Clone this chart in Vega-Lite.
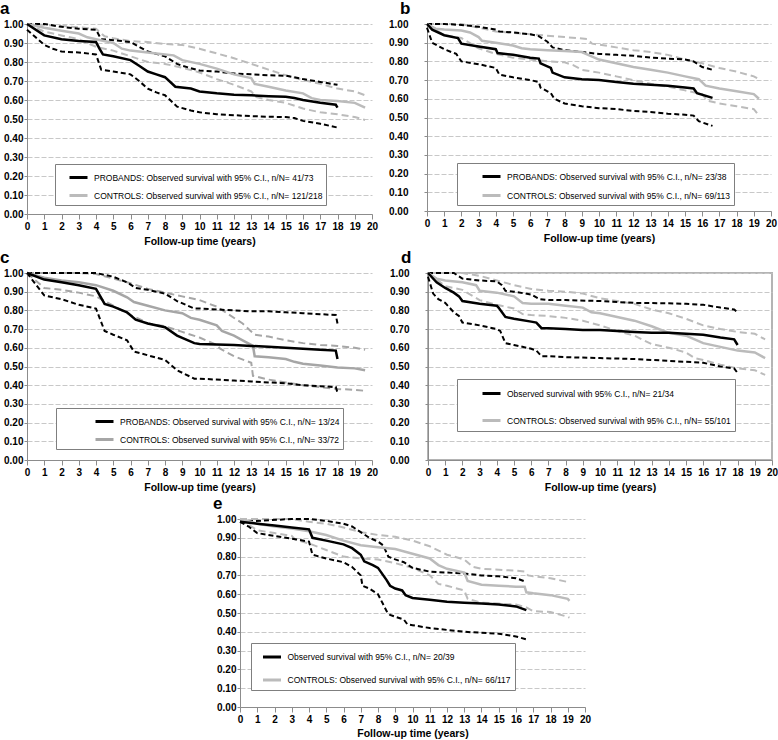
{
"$schema":"https://vega.github.io/schema/vega-lite/v6.json",
"padding":0,
"spacing":1,
"config":{
 "font":"Liberation Sans",
 "view":{"stroke":null},
 "axis":{"labelFont":"Liberation Sans","labelFontWeight":"bold","labelFontSize":10,"labelColor":"#000000","domainColor":"#8c8c8c","tickColor":"#8c8c8c","titleFont":"Liberation Sans","titleColor":"#000000"},
 "axisX":{"grid":false,"tickSize":5,"labelPadding":2,"titleFontSize":10.5,"titleFontWeight":"bold","titlePadding":5,"labelFlush":false,"labelOverlap":false},
 "axisY":{"grid":true,"gridColor":"#c8c8c8","gridDash":[5,2],"tickSize":3,"labelPadding":1,"labelOverlap":false},
 "title":{"anchor":"start","frame":"group","dx":-27,"fontSize":17,"fontWeight":"bold","offset":1,"font":"Liberation Sans","color":"#000000"},
 "legend":{"strokeColor":"#7f7f7f","fillColor":"#ffffff","symbolType":"stroke","symbolSize":324,"symbolStrokeWidth":3,"labelFontSize":8.5,"labelFont":"Liberation Sans","labelLimit":400,"labelColor":"#000000","labelOffset":5}
},
"datasets":{
"a":[
{"g":"C","k":"est","t":0,"s":1},{"g":"C","k":"est","t":1,"s":0.98},{"g":"C","k":"est","t":2,"s":0.965},{"g":"C","k":"est","t":3,"s":0.95},{"g":"C","k":"est","t":3.5,"s":0.93},{"g":"C","k":"est","t":4,"s":0.92},{"g":"C","k":"est","t":5,"s":0.9},{"g":"C","k":"est","t":5.5,"s":0.87},{"g":"C","k":"est","t":6,"s":0.86},{"g":"C","k":"est","t":7,"s":0.85},{"g":"C","k":"est","t":8,"s":0.84},{"g":"C","k":"est","t":8.5,"s":0.835},{"g":"C","k":"est","t":9,"s":0.81},{"g":"C","k":"est","t":10,"s":0.79},{"g":"C","k":"est","t":11,"s":0.765},{"g":"C","k":"est","t":12,"s":0.735},{"g":"C","k":"est","t":13,"s":0.715},{"g":"C","k":"est","t":13.2,"s":0.685},{"g":"C","k":"est","t":14,"s":0.67},{"g":"C","k":"est","t":15,"s":0.65},{"g":"C","k":"est","t":16,"s":0.635},{"g":"C","k":"est","t":16.5,"s":0.61},{"g":"C","k":"est","t":17,"s":0.6},{"g":"C","k":"est","t":18,"s":0.595},{"g":"C","k":"est","t":19,"s":0.585},{"g":"C","k":"est","t":19.6,"s":0.56},
{"g":"C","k":"hi","t":0,"s":1},{"g":"C","k":"hi","t":2,"s":0.99},{"g":"C","k":"hi","t":4,"s":0.975},{"g":"C","k":"hi","t":4.5,"s":0.935},{"g":"C","k":"hi","t":5,"s":0.925},{"g":"C","k":"hi","t":6,"s":0.91},{"g":"C","k":"hi","t":7,"s":0.905},{"g":"C","k":"hi","t":8,"s":0.895},{"g":"C","k":"hi","t":9,"s":0.89},{"g":"C","k":"hi","t":10,"s":0.87},{"g":"C","k":"hi","t":11,"s":0.845},{"g":"C","k":"hi","t":12,"s":0.82},{"g":"C","k":"hi","t":13,"s":0.79},{"g":"C","k":"hi","t":14,"s":0.76},{"g":"C","k":"hi","t":15,"s":0.73},{"g":"C","k":"hi","t":16,"s":0.705},{"g":"C","k":"hi","t":17,"s":0.685},{"g":"C","k":"hi","t":18,"s":0.66},{"g":"C","k":"hi","t":19,"s":0.645},{"g":"C","k":"hi","t":19.6,"s":0.625},
{"g":"C","k":"lo","t":0,"s":1},{"g":"C","k":"lo","t":1,"s":0.96},{"g":"C","k":"lo","t":2,"s":0.94},{"g":"C","k":"lo","t":3,"s":0.92},{"g":"C","k":"lo","t":4,"s":0.88},{"g":"C","k":"lo","t":5,"s":0.86},{"g":"C","k":"lo","t":6,"s":0.83},{"g":"C","k":"lo","t":7,"s":0.8},{"g":"C","k":"lo","t":8,"s":0.79},{"g":"C","k":"lo","t":9,"s":0.77},{"g":"C","k":"lo","t":10,"s":0.745},{"g":"C","k":"lo","t":11,"s":0.71},{"g":"C","k":"lo","t":12,"s":0.68},{"g":"C","k":"lo","t":13,"s":0.645},{"g":"C","k":"lo","t":13.3,"s":0.615},{"g":"C","k":"lo","t":14,"s":0.6},{"g":"C","k":"lo","t":15,"s":0.585},{"g":"C","k":"lo","t":16,"s":0.555},{"g":"C","k":"lo","t":17,"s":0.535},{"g":"C","k":"lo","t":18,"s":0.525},{"g":"C","k":"lo","t":19,"s":0.51},{"g":"C","k":"lo","t":19.6,"s":0.495},
{"g":"P","k":"est","t":0,"s":1},{"g":"P","k":"est","t":1,"s":0.94},{"g":"P","k":"est","t":2,"s":0.92},{"g":"P","k":"est","t":3,"s":0.91},{"g":"P","k":"est","t":4,"s":0.905},{"g":"P","k":"est","t":4.2,"s":0.87},{"g":"P","k":"est","t":4.4,"s":0.84},{"g":"P","k":"est","t":5,"s":0.83},{"g":"P","k":"est","t":6,"s":0.81},{"g":"P","k":"est","t":6.5,"s":0.78},{"g":"P","k":"est","t":7,"s":0.75},{"g":"P","k":"est","t":7.5,"s":0.735},{"g":"P","k":"est","t":8,"s":0.72},{"g":"P","k":"est","t":8.6,"s":0.67},{"g":"P","k":"est","t":9.5,"s":0.66},{"g":"P","k":"est","t":10,"s":0.645},{"g":"P","k":"est","t":11,"s":0.635},{"g":"P","k":"est","t":12,"s":0.628},{"g":"P","k":"est","t":13,"s":0.625},{"g":"P","k":"est","t":14,"s":0.62},{"g":"P","k":"est","t":15,"s":0.617},{"g":"P","k":"est","t":15.5,"s":0.61},{"g":"P","k":"est","t":16,"s":0.6},{"g":"P","k":"est","t":17,"s":0.585},{"g":"P","k":"est","t":17.9,"s":0.575},{"g":"P","k":"est","t":18,"s":0.56},
{"g":"P","k":"lo","t":0,"s":0.97},{"g":"P","k":"lo","t":0.5,"s":0.93},{"g":"P","k":"lo","t":1,"s":0.89},{"g":"P","k":"lo","t":1.5,"s":0.87},{"g":"P","k":"lo","t":2,"s":0.855},{"g":"P","k":"lo","t":3,"s":0.85},{"g":"P","k":"lo","t":4,"s":0.84},{"g":"P","k":"lo","t":4.3,"s":0.76},{"g":"P","k":"lo","t":5,"s":0.75},{"g":"P","k":"lo","t":6,"s":0.735},{"g":"P","k":"lo","t":6.5,"s":0.7},{"g":"P","k":"lo","t":7,"s":0.66},{"g":"P","k":"lo","t":7.5,"s":0.64},{"g":"P","k":"lo","t":8,"s":0.625},{"g":"P","k":"lo","t":8.7,"s":0.565},{"g":"P","k":"lo","t":9.5,"s":0.545},{"g":"P","k":"lo","t":10,"s":0.535},{"g":"P","k":"lo","t":11,"s":0.525},{"g":"P","k":"lo","t":12,"s":0.52},{"g":"P","k":"lo","t":13,"s":0.515},{"g":"P","k":"lo","t":14,"s":0.512},{"g":"P","k":"lo","t":15,"s":0.51},{"g":"P","k":"lo","t":15.5,"s":0.505},{"g":"P","k":"lo","t":16,"s":0.49},{"g":"P","k":"lo","t":17,"s":0.475},{"g":"P","k":"lo","t":18,"s":0.455},
{"g":"P","k":"hi","t":0,"s":1},{"g":"P","k":"hi","t":1,"s":1},{"g":"P","k":"hi","t":2,"s":0.985},{"g":"P","k":"hi","t":3,"s":0.975},{"g":"P","k":"hi","t":4,"s":0.97},{"g":"P","k":"hi","t":4.3,"s":0.92},{"g":"P","k":"hi","t":5,"s":0.915},{"g":"P","k":"hi","t":6,"s":0.905},{"g":"P","k":"hi","t":6.5,"s":0.88},{"g":"P","k":"hi","t":7,"s":0.855},{"g":"P","k":"hi","t":8,"s":0.83},{"g":"P","k":"hi","t":8.7,"s":0.79},{"g":"P","k":"hi","t":9,"s":0.78},{"g":"P","k":"hi","t":10,"s":0.755},{"g":"P","k":"hi","t":11,"s":0.75},{"g":"P","k":"hi","t":12,"s":0.74},{"g":"P","k":"hi","t":13,"s":0.735},{"g":"P","k":"hi","t":14,"s":0.73},{"g":"P","k":"hi","t":15,"s":0.728},{"g":"P","k":"hi","t":15.5,"s":0.72},{"g":"P","k":"hi","t":16,"s":0.71},{"g":"P","k":"hi","t":17,"s":0.695},{"g":"P","k":"hi","t":18,"s":0.68}
],
"b":[
{"g":"C","k":"est","t":0,"s":1},{"g":"C","k":"est","t":0.5,"s":0.975},{"g":"C","k":"est","t":1,"s":0.97},{"g":"C","k":"est","t":2,"s":0.965},{"g":"C","k":"est","t":2.5,"s":0.955},{"g":"C","k":"est","t":3,"s":0.93},{"g":"C","k":"est","t":3.2,"s":0.91},{"g":"C","k":"est","t":4,"s":0.9},{"g":"C","k":"est","t":5,"s":0.885},{"g":"C","k":"est","t":5.5,"s":0.87},{"g":"C","k":"est","t":6,"s":0.865},{"g":"C","k":"est","t":7,"s":0.86},{"g":"C","k":"est","t":8,"s":0.855},{"g":"C","k":"est","t":9,"s":0.85},{"g":"C","k":"est","t":9.5,"s":0.83},{"g":"C","k":"est","t":10,"s":0.81},{"g":"C","k":"est","t":11,"s":0.79},{"g":"C","k":"est","t":12,"s":0.77},{"g":"C","k":"est","t":13,"s":0.755},{"g":"C","k":"est","t":14,"s":0.74},{"g":"C","k":"est","t":15,"s":0.72},{"g":"C","k":"est","t":15.8,"s":0.705},{"g":"C","k":"est","t":16.2,"s":0.67},{"g":"C","k":"est","t":17,"s":0.655},{"g":"C","k":"est","t":18,"s":0.64},{"g":"C","k":"est","t":19,"s":0.625},{"g":"C","k":"est","t":19.3,"s":0.6},
{"g":"C","k":"hi","t":0,"s":1},{"g":"C","k":"hi","t":2,"s":1},{"g":"C","k":"hi","t":4,"s":0.96},{"g":"C","k":"hi","t":6,"s":0.945},{"g":"C","k":"hi","t":8,"s":0.93},{"g":"C","k":"hi","t":9.3,"s":0.92},{"g":"C","k":"hi","t":9.6,"s":0.895},{"g":"C","k":"hi","t":10,"s":0.89},{"g":"C","k":"hi","t":11,"s":0.875},{"g":"C","k":"hi","t":12,"s":0.86},{"g":"C","k":"hi","t":13,"s":0.85},{"g":"C","k":"hi","t":14,"s":0.835},{"g":"C","k":"hi","t":15,"s":0.81},{"g":"C","k":"hi","t":16,"s":0.79},{"g":"C","k":"hi","t":17,"s":0.765},{"g":"C","k":"hi","t":18,"s":0.745},{"g":"C","k":"hi","t":19,"s":0.72},{"g":"C","k":"hi","t":19.3,"s":0.705},
{"g":"C","k":"lo","t":0,"s":1},{"g":"C","k":"lo","t":1,"s":0.94},{"g":"C","k":"lo","t":2,"s":0.925},{"g":"C","k":"lo","t":3,"s":0.87},{"g":"C","k":"lo","t":4,"s":0.84},{"g":"C","k":"lo","t":5,"s":0.82},{"g":"C","k":"lo","t":6,"s":0.81},{"g":"C","k":"lo","t":7,"s":0.8},{"g":"C","k":"lo","t":8,"s":0.795},{"g":"C","k":"lo","t":8.5,"s":0.78},{"g":"C","k":"lo","t":9,"s":0.755},{"g":"C","k":"lo","t":10,"s":0.74},{"g":"C","k":"lo","t":11,"s":0.72},{"g":"C","k":"lo","t":12,"s":0.7},{"g":"C","k":"lo","t":13,"s":0.68},{"g":"C","k":"lo","t":14,"s":0.665},{"g":"C","k":"lo","t":15,"s":0.645},{"g":"C","k":"lo","t":16,"s":0.625},{"g":"C","k":"lo","t":16.3,"s":0.59},{"g":"C","k":"lo","t":17,"s":0.575},{"g":"C","k":"lo","t":18,"s":0.56},{"g":"C","k":"lo","t":19,"s":0.545},{"g":"C","k":"lo","t":19.3,"s":0.51},
{"g":"P","k":"est","t":0,"s":1},{"g":"P","k":"est","t":0.3,"s":0.97},{"g":"P","k":"est","t":1,"s":0.94},{"g":"P","k":"est","t":1.8,"s":0.925},{"g":"P","k":"est","t":2,"s":0.895},{"g":"P","k":"est","t":3,"s":0.88},{"g":"P","k":"est","t":4,"s":0.865},{"g":"P","k":"est","t":4.1,"s":0.845},{"g":"P","k":"est","t":5,"s":0.835},{"g":"P","k":"est","t":6,"s":0.82},{"g":"P","k":"est","t":6.5,"s":0.815},{"g":"P","k":"est","t":6.6,"s":0.79},{"g":"P","k":"est","t":7.2,"s":0.765},{"g":"P","k":"est","t":7.3,"s":0.74},{"g":"P","k":"est","t":8,"s":0.715},{"g":"P","k":"est","t":9,"s":0.705},{"g":"P","k":"est","t":10,"s":0.7},{"g":"P","k":"est","t":11,"s":0.69},{"g":"P","k":"est","t":12,"s":0.68},{"g":"P","k":"est","t":13,"s":0.675},{"g":"P","k":"est","t":14,"s":0.67},{"g":"P","k":"est","t":15,"s":0.66},{"g":"P","k":"est","t":15.5,"s":0.655},{"g":"P","k":"est","t":15.7,"s":0.63},{"g":"P","k":"est","t":16.6,"s":0.605},
{"g":"P","k":"lo","t":0,"s":0.98},{"g":"P","k":"lo","t":0.3,"s":0.9},{"g":"P","k":"lo","t":1,"s":0.865},{"g":"P","k":"lo","t":1.7,"s":0.84},{"g":"P","k":"lo","t":2,"s":0.8},{"g":"P","k":"lo","t":3,"s":0.785},{"g":"P","k":"lo","t":4,"s":0.765},{"g":"P","k":"lo","t":4.2,"s":0.73},{"g":"P","k":"lo","t":5,"s":0.715},{"g":"P","k":"lo","t":6,"s":0.7},{"g":"P","k":"lo","t":6.5,"s":0.69},{"g":"P","k":"lo","t":6.6,"s":0.66},{"g":"P","k":"lo","t":7.2,"s":0.63},{"g":"P","k":"lo","t":7.4,"s":0.6},{"g":"P","k":"lo","t":8,"s":0.575},{"g":"P","k":"lo","t":9,"s":0.56},{"g":"P","k":"lo","t":10,"s":0.55},{"g":"P","k":"lo","t":11,"s":0.545},{"g":"P","k":"lo","t":12,"s":0.535},{"g":"P","k":"lo","t":13,"s":0.53},{"g":"P","k":"lo","t":14,"s":0.52},{"g":"P","k":"lo","t":15,"s":0.515},{"g":"P","k":"lo","t":15.5,"s":0.51},{"g":"P","k":"lo","t":15.8,"s":0.48},{"g":"P","k":"lo","t":16.6,"s":0.455},
{"g":"P","k":"hi","t":0,"s":1},{"g":"P","k":"hi","t":1,"s":1},{"g":"P","k":"hi","t":2,"s":0.995},{"g":"P","k":"hi","t":3,"s":0.985},{"g":"P","k":"hi","t":4,"s":0.97},{"g":"P","k":"hi","t":4.2,"s":0.96},{"g":"P","k":"hi","t":5,"s":0.955},{"g":"P","k":"hi","t":6,"s":0.945},{"g":"P","k":"hi","t":6.5,"s":0.935},{"g":"P","k":"hi","t":7,"s":0.905},{"g":"P","k":"hi","t":7.3,"s":0.875},{"g":"P","k":"hi","t":8,"s":0.86},{"g":"P","k":"hi","t":9,"s":0.85},{"g":"P","k":"hi","t":10,"s":0.84},{"g":"P","k":"hi","t":11,"s":0.835},{"g":"P","k":"hi","t":12,"s":0.83},{"g":"P","k":"hi","t":13,"s":0.82},{"g":"P","k":"hi","t":14,"s":0.815},{"g":"P","k":"hi","t":15,"s":0.81},{"g":"P","k":"hi","t":15.5,"s":0.8},{"g":"P","k":"hi","t":16,"s":0.77},{"g":"P","k":"hi","t":16.6,"s":0.755}
],
"c":[
{"g":"C","k":"est","t":0,"s":1},{"g":"C","k":"est","t":1,"s":0.975},{"g":"C","k":"est","t":2,"s":0.96},{"g":"C","k":"est","t":3,"s":0.95},{"g":"C","k":"est","t":4,"s":0.935},{"g":"C","k":"est","t":5,"s":0.905},{"g":"C","k":"est","t":5.8,"s":0.87},{"g":"C","k":"est","t":6.2,"s":0.845},{"g":"C","k":"est","t":7,"s":0.825},{"g":"C","k":"est","t":8,"s":0.8},{"g":"C","k":"est","t":9,"s":0.785},{"g":"C","k":"est","t":9.5,"s":0.76},{"g":"C","k":"est","t":10,"s":0.75},{"g":"C","k":"est","t":11,"s":0.72},{"g":"C","k":"est","t":11.3,"s":0.69},{"g":"C","k":"est","t":12,"s":0.665},{"g":"C","k":"est","t":12.5,"s":0.64},{"g":"C","k":"est","t":13.1,"s":0.61},{"g":"C","k":"est","t":13.2,"s":0.555},{"g":"C","k":"est","t":14,"s":0.55},{"g":"C","k":"est","t":15,"s":0.54},{"g":"C","k":"est","t":15.5,"s":0.525},{"g":"C","k":"est","t":16,"s":0.515},{"g":"C","k":"est","t":17,"s":0.505},{"g":"C","k":"est","t":18,"s":0.495},{"g":"C","k":"est","t":19,"s":0.49},{"g":"C","k":"est","t":19.6,"s":0.48},
{"g":"C","k":"hi","t":0,"s":1},{"g":"C","k":"hi","t":3,"s":1},{"g":"C","k":"hi","t":4,"s":0.995},{"g":"C","k":"hi","t":5,"s":0.97},{"g":"C","k":"hi","t":6,"s":0.945},{"g":"C","k":"hi","t":7,"s":0.915},{"g":"C","k":"hi","t":8,"s":0.895},{"g":"C","k":"hi","t":9,"s":0.875},{"g":"C","k":"hi","t":10,"s":0.855},{"g":"C","k":"hi","t":11,"s":0.82},{"g":"C","k":"hi","t":11.5,"s":0.79},{"g":"C","k":"hi","t":12.5,"s":0.73},{"g":"C","k":"hi","t":13.2,"s":0.67},{"g":"C","k":"hi","t":14,"s":0.66},{"g":"C","k":"hi","t":15,"s":0.64},{"g":"C","k":"hi","t":16,"s":0.625},{"g":"C","k":"hi","t":17,"s":0.615},{"g":"C","k":"hi","t":18,"s":0.61},{"g":"C","k":"hi","t":19,"s":0.6},{"g":"C","k":"hi","t":19.6,"s":0.59},
{"g":"C","k":"lo","t":0,"s":1},{"g":"C","k":"lo","t":1,"s":0.92},{"g":"C","k":"lo","t":2,"s":0.91},{"g":"C","k":"lo","t":3,"s":0.895},{"g":"C","k":"lo","t":4,"s":0.875},{"g":"C","k":"lo","t":5,"s":0.825},{"g":"C","k":"lo","t":6,"s":0.775},{"g":"C","k":"lo","t":6.5,"s":0.755},{"g":"C","k":"lo","t":7,"s":0.73},{"g":"C","k":"lo","t":8,"s":0.715},{"g":"C","k":"lo","t":9,"s":0.685},{"g":"C","k":"lo","t":10,"s":0.655},{"g":"C","k":"lo","t":11,"s":0.615},{"g":"C","k":"lo","t":11.2,"s":0.595},{"g":"C","k":"lo","t":12,"s":0.555},{"g":"C","k":"lo","t":13,"s":0.52},{"g":"C","k":"lo","t":13.1,"s":0.45},{"g":"C","k":"lo","t":14,"s":0.43},{"g":"C","k":"lo","t":15,"s":0.415},{"g":"C","k":"lo","t":16,"s":0.4},{"g":"C","k":"lo","t":17,"s":0.39},{"g":"C","k":"lo","t":18,"s":0.38},{"g":"C","k":"lo","t":19,"s":0.375},{"g":"C","k":"lo","t":19.6,"s":0.37},
{"g":"P","k":"est","t":0,"s":1},{"g":"P","k":"est","t":1,"s":0.965},{"g":"P","k":"est","t":2,"s":0.95},{"g":"P","k":"est","t":3,"s":0.935},{"g":"P","k":"est","t":4,"s":0.915},{"g":"P","k":"est","t":4.5,"s":0.835},{"g":"P","k":"est","t":5,"s":0.82},{"g":"P","k":"est","t":5.8,"s":0.79},{"g":"P","k":"est","t":6.3,"s":0.75},{"g":"P","k":"est","t":7,"s":0.73},{"g":"P","k":"est","t":8,"s":0.71},{"g":"P","k":"est","t":8.7,"s":0.665},{"g":"P","k":"est","t":9.7,"s":0.625},{"g":"P","k":"est","t":10,"s":0.62},{"g":"P","k":"est","t":12,"s":0.615},{"g":"P","k":"est","t":13,"s":0.61},{"g":"P","k":"est","t":14,"s":0.605},{"g":"P","k":"est","t":15,"s":0.6},{"g":"P","k":"est","t":16,"s":0.595},{"g":"P","k":"est","t":17,"s":0.59},{"g":"P","k":"est","t":17.9,"s":0.585},{"g":"P","k":"est","t":18,"s":0.54},
{"g":"P","k":"lo","t":0,"s":1},{"g":"P","k":"lo","t":1,"s":0.88},{"g":"P","k":"lo","t":2,"s":0.86},{"g":"P","k":"lo","t":3,"s":0.83},{"g":"P","k":"lo","t":4,"s":0.81},{"g":"P","k":"lo","t":4.5,"s":0.69},{"g":"P","k":"lo","t":5,"s":0.67},{"g":"P","k":"lo","t":5.8,"s":0.64},{"g":"P","k":"lo","t":6.2,"s":0.58},{"g":"P","k":"lo","t":7,"s":0.56},{"g":"P","k":"lo","t":8,"s":0.535},{"g":"P","k":"lo","t":8.7,"s":0.48},{"g":"P","k":"lo","t":9.7,"s":0.435},{"g":"P","k":"lo","t":10,"s":0.435},{"g":"P","k":"lo","t":12,"s":0.425},{"g":"P","k":"lo","t":13,"s":0.42},{"g":"P","k":"lo","t":14,"s":0.415},{"g":"P","k":"lo","t":15,"s":0.41},{"g":"P","k":"lo","t":16,"s":0.4},{"g":"P","k":"lo","t":17,"s":0.395},{"g":"P","k":"lo","t":17.9,"s":0.39},{"g":"P","k":"lo","t":18,"s":0.36},
{"g":"P","k":"hi","t":0,"s":1},{"g":"P","k":"hi","t":2,"s":1},{"g":"P","k":"hi","t":4,"s":1},{"g":"P","k":"hi","t":5,"s":0.98},{"g":"P","k":"hi","t":5.8,"s":0.95},{"g":"P","k":"hi","t":6.3,"s":0.92},{"g":"P","k":"hi","t":7,"s":0.91},{"g":"P","k":"hi","t":8,"s":0.89},{"g":"P","k":"hi","t":8.7,"s":0.85},{"g":"P","k":"hi","t":9.7,"s":0.81},{"g":"P","k":"hi","t":10,"s":0.81},{"g":"P","k":"hi","t":12,"s":0.8},{"g":"P","k":"hi","t":13,"s":0.795},{"g":"P","k":"hi","t":14,"s":0.795},{"g":"P","k":"hi","t":15,"s":0.79},{"g":"P","k":"hi","t":16,"s":0.785},{"g":"P","k":"hi","t":17,"s":0.78},{"g":"P","k":"hi","t":17.9,"s":0.775},{"g":"P","k":"hi","t":18,"s":0.73}
],
"d":[
{"g":"C","k":"est","t":0,"s":1},{"g":"C","k":"est","t":0.5,"s":0.97},{"g":"C","k":"est","t":1,"s":0.96},{"g":"C","k":"est","t":2,"s":0.95},{"g":"C","k":"est","t":2.8,"s":0.935},{"g":"C","k":"est","t":3,"s":0.905},{"g":"C","k":"est","t":4,"s":0.895},{"g":"C","k":"est","t":5,"s":0.875},{"g":"C","k":"est","t":5.5,"s":0.84},{"g":"C","k":"est","t":6,"s":0.835},{"g":"C","k":"est","t":7,"s":0.835},{"g":"C","k":"est","t":8,"s":0.825},{"g":"C","k":"est","t":9,"s":0.815},{"g":"C","k":"est","t":9.5,"s":0.79},{"g":"C","k":"est","t":10,"s":0.785},{"g":"C","k":"est","t":11,"s":0.765},{"g":"C","k":"est","t":12,"s":0.745},{"g":"C","k":"est","t":13,"s":0.715},{"g":"C","k":"est","t":14,"s":0.68},{"g":"C","k":"est","t":15,"s":0.665},{"g":"C","k":"est","t":15.5,"s":0.645},{"g":"C","k":"est","t":16,"s":0.625},{"g":"C","k":"est","t":17,"s":0.605},{"g":"C","k":"est","t":18,"s":0.585},{"g":"C","k":"est","t":19,"s":0.575},{"g":"C","k":"est","t":19.6,"s":0.545},
{"g":"C","k":"hi","t":0,"s":1},{"g":"C","k":"hi","t":2,"s":1},{"g":"C","k":"hi","t":3,"s":0.985},{"g":"C","k":"hi","t":4,"s":0.96},{"g":"C","k":"hi","t":5,"s":0.935},{"g":"C","k":"hi","t":6,"s":0.915},{"g":"C","k":"hi","t":7,"s":0.905},{"g":"C","k":"hi","t":8,"s":0.9},{"g":"C","k":"hi","t":9,"s":0.89},{"g":"C","k":"hi","t":10,"s":0.865},{"g":"C","k":"hi","t":11,"s":0.85},{"g":"C","k":"hi","t":12,"s":0.835},{"g":"C","k":"hi","t":13,"s":0.805},{"g":"C","k":"hi","t":14,"s":0.785},{"g":"C","k":"hi","t":15,"s":0.755},{"g":"C","k":"hi","t":16,"s":0.72},{"g":"C","k":"hi","t":17,"s":0.7},{"g":"C","k":"hi","t":18,"s":0.685},{"g":"C","k":"hi","t":19,"s":0.675},{"g":"C","k":"hi","t":19.6,"s":0.645},
{"g":"C","k":"lo","t":0,"s":1},{"g":"C","k":"lo","t":1,"s":0.93},{"g":"C","k":"lo","t":2,"s":0.91},{"g":"C","k":"lo","t":3,"s":0.855},{"g":"C","k":"lo","t":4,"s":0.83},{"g":"C","k":"lo","t":5,"s":0.81},{"g":"C","k":"lo","t":5.5,"s":0.78},{"g":"C","k":"lo","t":6,"s":0.775},{"g":"C","k":"lo","t":7,"s":0.77},{"g":"C","k":"lo","t":8,"s":0.76},{"g":"C","k":"lo","t":9,"s":0.745},{"g":"C","k":"lo","t":10,"s":0.72},{"g":"C","k":"lo","t":11,"s":0.69},{"g":"C","k":"lo","t":12,"s":0.665},{"g":"C","k":"lo","t":13,"s":0.62},{"g":"C","k":"lo","t":14,"s":0.6},{"g":"C","k":"lo","t":15,"s":0.575},{"g":"C","k":"lo","t":15.5,"s":0.545},{"g":"C","k":"lo","t":16,"s":0.535},{"g":"C","k":"lo","t":17,"s":0.51},{"g":"C","k":"lo","t":18,"s":0.49},{"g":"C","k":"lo","t":19,"s":0.48},{"g":"C","k":"lo","t":19.6,"s":0.455},
{"g":"P","k":"est","t":0,"s":1},{"g":"P","k":"est","t":0.5,"s":0.95},{"g":"P","k":"est","t":1,"s":0.92},{"g":"P","k":"est","t":1.5,"s":0.895},{"g":"P","k":"est","t":1.8,"s":0.875},{"g":"P","k":"est","t":2,"s":0.85},{"g":"P","k":"est","t":3,"s":0.835},{"g":"P","k":"est","t":4,"s":0.825},{"g":"P","k":"est","t":4.1,"s":0.815},{"g":"P","k":"est","t":4.5,"s":0.765},{"g":"P","k":"est","t":5,"s":0.755},{"g":"P","k":"est","t":6,"s":0.74},{"g":"P","k":"est","t":6.3,"s":0.735},{"g":"P","k":"est","t":6.6,"s":0.705},{"g":"P","k":"est","t":7,"s":0.705},{"g":"P","k":"est","t":8,"s":0.7},{"g":"P","k":"est","t":9,"s":0.695},{"g":"P","k":"est","t":10,"s":0.695},{"g":"P","k":"est","t":11,"s":0.69},{"g":"P","k":"est","t":12,"s":0.685},{"g":"P","k":"est","t":13,"s":0.68},{"g":"P","k":"est","t":14,"s":0.68},{"g":"P","k":"est","t":15,"s":0.675},{"g":"P","k":"est","t":16,"s":0.67},{"g":"P","k":"est","t":17,"s":0.655},{"g":"P","k":"est","t":17.8,"s":0.645},{"g":"P","k":"est","t":18,"s":0.615},
{"g":"P","k":"lo","t":0,"s":0.98},{"g":"P","k":"lo","t":0.3,"s":0.89},{"g":"P","k":"lo","t":0.6,"s":0.86},{"g":"P","k":"lo","t":1,"s":0.84},{"g":"P","k":"lo","t":1.5,"s":0.79},{"g":"P","k":"lo","t":1.8,"s":0.77},{"g":"P","k":"lo","t":2,"s":0.735},{"g":"P","k":"lo","t":3,"s":0.72},{"g":"P","k":"lo","t":4,"s":0.7},{"g":"P","k":"lo","t":4.2,"s":0.69},{"g":"P","k":"lo","t":4.5,"s":0.625},{"g":"P","k":"lo","t":5,"s":0.615},{"g":"P","k":"lo","t":6,"s":0.595},{"g":"P","k":"lo","t":6.3,"s":0.585},{"g":"P","k":"lo","t":6.6,"s":0.555},{"g":"P","k":"lo","t":7,"s":0.555},{"g":"P","k":"lo","t":8,"s":0.55},{"g":"P","k":"lo","t":10,"s":0.545},{"g":"P","k":"lo","t":12,"s":0.54},{"g":"P","k":"lo","t":14,"s":0.53},{"g":"P","k":"lo","t":15,"s":0.525},{"g":"P","k":"lo","t":16,"s":0.52},{"g":"P","k":"lo","t":17,"s":0.5},{"g":"P","k":"lo","t":17.8,"s":0.49},{"g":"P","k":"lo","t":18,"s":0.465},
{"g":"P","k":"hi","t":0,"s":1},{"g":"P","k":"hi","t":1.5,"s":1},{"g":"P","k":"hi","t":2,"s":0.97},{"g":"P","k":"hi","t":3,"s":0.96},{"g":"P","k":"hi","t":4,"s":0.955},{"g":"P","k":"hi","t":4.3,"s":0.935},{"g":"P","k":"hi","t":4.5,"s":0.905},{"g":"P","k":"hi","t":5,"s":0.9},{"g":"P","k":"hi","t":6,"s":0.885},{"g":"P","k":"hi","t":6.5,"s":0.86},{"g":"P","k":"hi","t":7,"s":0.855},{"g":"P","k":"hi","t":8,"s":0.855},{"g":"P","k":"hi","t":10,"s":0.85},{"g":"P","k":"hi","t":12,"s":0.84},{"g":"P","k":"hi","t":14,"s":0.838},{"g":"P","k":"hi","t":15,"s":0.835},{"g":"P","k":"hi","t":16,"s":0.83},{"g":"P","k":"hi","t":17,"s":0.815},{"g":"P","k":"hi","t":17.8,"s":0.805},{"g":"P","k":"hi","t":18,"s":0.79}
],
"e":[
{"g":"C","k":"est","t":0,"s":1},{"g":"C","k":"est","t":1,"s":0.975},{"g":"C","k":"est","t":2,"s":0.96},{"g":"C","k":"est","t":3,"s":0.95},{"g":"C","k":"est","t":4,"s":0.935},{"g":"C","k":"est","t":5,"s":0.915},{"g":"C","k":"est","t":6,"s":0.885},{"g":"C","k":"est","t":7,"s":0.86},{"g":"C","k":"est","t":8,"s":0.85},{"g":"C","k":"est","t":9,"s":0.84},{"g":"C","k":"est","t":10,"s":0.815},{"g":"C","k":"est","t":11,"s":0.79},{"g":"C","k":"est","t":11.5,"s":0.755},{"g":"C","k":"est","t":12,"s":0.735},{"g":"C","k":"est","t":13,"s":0.715},{"g":"C","k":"est","t":13.2,"s":0.67},{"g":"C","k":"est","t":14,"s":0.65},{"g":"C","k":"est","t":15,"s":0.645},{"g":"C","k":"est","t":16,"s":0.64},{"g":"C","k":"est","t":16.5,"s":0.64},{"g":"C","k":"est","t":16.6,"s":0.61},{"g":"C","k":"est","t":17,"s":0.605},{"g":"C","k":"est","t":18,"s":0.595},{"g":"C","k":"est","t":19,"s":0.575},{"g":"C","k":"est","t":19.1,"s":0.565},
{"g":"C","k":"hi","t":0,"s":1},{"g":"C","k":"hi","t":3,"s":1},{"g":"C","k":"hi","t":4,"s":0.985},{"g":"C","k":"hi","t":5,"s":0.975},{"g":"C","k":"hi","t":6,"s":0.955},{"g":"C","k":"hi","t":7,"s":0.93},{"g":"C","k":"hi","t":8,"s":0.915},{"g":"C","k":"hi","t":9,"s":0.905},{"g":"C","k":"hi","t":10,"s":0.885},{"g":"C","k":"hi","t":11,"s":0.855},{"g":"C","k":"hi","t":12,"s":0.81},{"g":"C","k":"hi","t":13,"s":0.785},{"g":"C","k":"hi","t":13.5,"s":0.745},{"g":"C","k":"hi","t":14,"s":0.735},{"g":"C","k":"hi","t":15,"s":0.73},{"g":"C","k":"hi","t":16,"s":0.725},{"g":"C","k":"hi","t":16.5,"s":0.72},{"g":"C","k":"hi","t":16.7,"s":0.7},{"g":"C","k":"hi","t":17,"s":0.695},{"g":"C","k":"hi","t":18,"s":0.685},{"g":"C","k":"hi","t":19,"s":0.665},{"g":"C","k":"hi","t":19.1,"s":0.66},
{"g":"C","k":"lo","t":0,"s":1},{"g":"C","k":"lo","t":1,"s":0.94},{"g":"C","k":"lo","t":2,"s":0.925},{"g":"C","k":"lo","t":3,"s":0.91},{"g":"C","k":"lo","t":3.2,"s":0.89},{"g":"C","k":"lo","t":4,"s":0.87},{"g":"C","k":"lo","t":5,"s":0.835},{"g":"C","k":"lo","t":6,"s":0.8},{"g":"C","k":"lo","t":7,"s":0.79},{"g":"C","k":"lo","t":8,"s":0.785},{"g":"C","k":"lo","t":9,"s":0.765},{"g":"C","k":"lo","t":10,"s":0.74},{"g":"C","k":"lo","t":11,"s":0.7},{"g":"C","k":"lo","t":11.5,"s":0.655},{"g":"C","k":"lo","t":12,"s":0.645},{"g":"C","k":"lo","t":13,"s":0.62},{"g":"C","k":"lo","t":13.2,"s":0.575},{"g":"C","k":"lo","t":14,"s":0.555},{"g":"C","k":"lo","t":15,"s":0.55},{"g":"C","k":"lo","t":16,"s":0.545},{"g":"C","k":"lo","t":16.6,"s":0.53},{"g":"C","k":"lo","t":17,"s":0.51},{"g":"C","k":"lo","t":18,"s":0.505},{"g":"C","k":"lo","t":19,"s":0.48},{"g":"C","k":"lo","t":19.1,"s":0.475},
{"g":"P","k":"est","t":0,"s":0.985},{"g":"P","k":"est","t":1,"s":0.975},{"g":"P","k":"est","t":2,"s":0.965},{"g":"P","k":"est","t":3,"s":0.955},{"g":"P","k":"est","t":4,"s":0.945},{"g":"P","k":"est","t":4.2,"s":0.9},{"g":"P","k":"est","t":5,"s":0.885},{"g":"P","k":"est","t":6,"s":0.865},{"g":"P","k":"est","t":6.5,"s":0.845},{"g":"P","k":"est","t":7,"s":0.81},{"g":"P","k":"est","t":7.2,"s":0.775},{"g":"P","k":"est","t":7.7,"s":0.755},{"g":"P","k":"est","t":8,"s":0.74},{"g":"P","k":"est","t":8.5,"s":0.675},{"g":"P","k":"est","t":8.7,"s":0.645},{"g":"P","k":"est","t":9,"s":0.63},{"g":"P","k":"est","t":9.4,"s":0.62},{"g":"P","k":"est","t":9.6,"s":0.595},{"g":"P","k":"est","t":10,"s":0.58},{"g":"P","k":"est","t":11,"s":0.57},{"g":"P","k":"est","t":12,"s":0.56},{"g":"P","k":"est","t":13,"s":0.555},{"g":"P","k":"est","t":14,"s":0.55},{"g":"P","k":"est","t":15,"s":0.545},{"g":"P","k":"est","t":16,"s":0.535},{"g":"P","k":"est","t":16.6,"s":0.515},
{"g":"P","k":"lo","t":0,"s":0.985},{"g":"P","k":"lo","t":0.5,"s":0.96},{"g":"P","k":"lo","t":1,"s":0.925},{"g":"P","k":"lo","t":2,"s":0.91},{"g":"P","k":"lo","t":3,"s":0.895},{"g":"P","k":"lo","t":4,"s":0.88},{"g":"P","k":"lo","t":4.2,"s":0.81},{"g":"P","k":"lo","t":5,"s":0.79},{"g":"P","k":"lo","t":6,"s":0.77},{"g":"P","k":"lo","t":6.5,"s":0.745},{"g":"P","k":"lo","t":7,"s":0.7},{"g":"P","k":"lo","t":7.1,"s":0.645},{"g":"P","k":"lo","t":7.5,"s":0.63},{"g":"P","k":"lo","t":8,"s":0.6},{"g":"P","k":"lo","t":8.5,"s":0.51},{"g":"P","k":"lo","t":8.7,"s":0.49},{"g":"P","k":"lo","t":9,"s":0.48},{"g":"P","k":"lo","t":9.5,"s":0.465},{"g":"P","k":"lo","t":9.7,"s":0.44},{"g":"P","k":"lo","t":10,"s":0.435},{"g":"P","k":"lo","t":11,"s":0.42},{"g":"P","k":"lo","t":12,"s":0.41},{"g":"P","k":"lo","t":13,"s":0.4},{"g":"P","k":"lo","t":14,"s":0.395},{"g":"P","k":"lo","t":15,"s":0.39},{"g":"P","k":"lo","t":16,"s":0.375},{"g":"P","k":"lo","t":16.6,"s":0.36},
{"g":"P","k":"hi","t":0,"s":0.985},{"g":"P","k":"hi","t":3,"s":1},{"g":"P","k":"hi","t":4,"s":1},{"g":"P","k":"hi","t":5,"s":0.99},{"g":"P","k":"hi","t":6,"s":0.975},{"g":"P","k":"hi","t":6.5,"s":0.96},{"g":"P","k":"hi","t":7,"s":0.93},{"g":"P","k":"hi","t":7.5,"s":0.9},{"g":"P","k":"hi","t":8,"s":0.88},{"g":"P","k":"hi","t":8.3,"s":0.86},{"g":"P","k":"hi","t":8.6,"s":0.8},{"g":"P","k":"hi","t":9,"s":0.785},{"g":"P","k":"hi","t":9.5,"s":0.77},{"g":"P","k":"hi","t":10,"s":0.74},{"g":"P","k":"hi","t":11,"s":0.72},{"g":"P","k":"hi","t":12,"s":0.715},{"g":"P","k":"hi","t":13,"s":0.71},{"g":"P","k":"hi","t":14,"s":0.7},{"g":"P","k":"hi","t":15,"s":0.695},{"g":"P","k":"hi","t":16,"s":0.685},{"g":"P","k":"hi","t":16.6,"s":0.665}
]
},
"resolve":{"scale":{"color":"independent"},"legend":{"color":"independent"}},
"vconcat":[
{"hconcat":[
 {"width":345,"height":190,"title":"a","data":{"name":"a"},
  "encoding":{"x":{"field":"t","type":"quantitative","scale":{"domain":[0,20],"nice":false},"axis":{"values":[0,1,2,3,4,5,6,7,8,9,10,11,12,13,14,15,16,17,18,19,20],"title":"Follow-up time (years)"}},
   "y":{"field":"s","type":"quantitative","scale":{"domain":[0,1],"nice":false},"axis":{"values":[0,0.1,0.2,0.3,0.4,0.5,0.6,0.7,0.8,0.9,1],"format":".2f","title":null}}},
  "layer":[
   {"transform":[{"filter":"datum.g == 'C' && datum.k != 'est'"}],"mark":{"type":"line","stroke":"#bbbbbb","strokeDash":[7,4],"strokeWidth":2},"encoding":{"detail":{"field":"k"}}},
   {"transform":[{"filter":"datum.g == 'P' && datum.k != 'est'"}],"mark":{"type":"line","stroke":"#000000","strokeDash":[5,3],"strokeWidth":2},"encoding":{"detail":{"field":"k"}}},
   {"transform":[{"filter":"datum.k == 'est'"}],"mark":{"type":"line","strokeWidth":2.5},"encoding":{"color":{"field":"g","type":"nominal","scale":{"domain":["P","C"],"range":["#000000","#bbbbbb"]},
    "legend":{"title":null,"orient":"none","legendX":28,"legendY":140,"padding":3,"rowPadding":1,"symbolOffset":10,"labelExpr":"datum.value == 'P' ? 'PROBANDS: Observed survival with 95% C.I., n/N= 41/73' : 'CONTROLS: Observed survival with 95% C.I., n/N= 121/218'"}}}}
  ]},
 {"width":344,"height":187,"title":"b","data":{"name":"b"},
  "encoding":{"x":{"field":"t","type":"quantitative","scale":{"domain":[0,20],"nice":false},"axis":{"values":[0,1,2,3,4,5,6,7,8,9,10,11,12,13,14,15,16,17,18,19,20],"title":"Follow-up time (years)"}},
   "y":{"field":"s","type":"quantitative","scale":{"domain":[0,1],"nice":false},"axis":{"values":[0,0.1,0.2,0.3,0.4,0.5,0.6,0.7,0.8,0.9,1],"format":".2f","title":null,"labelPadding":16}}},
  "layer":[
   {"transform":[{"filter":"datum.g == 'C' && datum.k != 'est'"}],"mark":{"type":"line","stroke":"#bbbbbb","strokeDash":[7,4],"strokeWidth":2},"encoding":{"detail":{"field":"k"}}},
   {"transform":[{"filter":"datum.g == 'P' && datum.k != 'est'"}],"mark":{"type":"line","stroke":"#000000","strokeDash":[5,3],"strokeWidth":2},"encoding":{"detail":{"field":"k"}}},
   {"transform":[{"filter":"datum.k == 'est'"}],"mark":{"type":"line","strokeWidth":2.5},"encoding":{"color":{"field":"g","type":"nominal","scale":{"domain":["P","C"],"range":["#000000","#bbbbbb"]},
    "legend":{"title":null,"orient":"none","legendX":30,"legendY":139,"padding":3,"rowPadding":2,"symbolOffset":21,"labelExpr":"datum.value == 'P' ? 'PROBANDS: Observed survival with 95% C.I., n/N= 23/38' : 'CONTROLS: Observed survival with 95% C.I., n/N= 69/113'"}}}}
  ]}
 ],"spacing":10,"resolve":{"scale":{"color":"independent"},"legend":{"color":"independent"}}},
{"hconcat":[
 {"width":345,"height":187,"title":"c","data":{"name":"c"},
  "encoding":{"x":{"field":"t","type":"quantitative","scale":{"domain":[0,20],"nice":false},"axis":{"values":[0,1,2,3,4,5,6,7,8,9,10,11,12,13,14,15,16,17,18,19,20],"title":"Follow-up time (years)"}},
   "y":{"field":"s","type":"quantitative","scale":{"domain":[0,1],"nice":false},"axis":{"values":[0,0.1,0.2,0.3,0.4,0.5,0.6,0.7,0.8,0.9,1],"format":".2f","title":null}}},
  "layer":[
   {"transform":[{"filter":"datum.g == 'C' && datum.k != 'est'"}],"mark":{"type":"line","stroke":"#a6a6a6","strokeDash":[7,4],"strokeWidth":2},"encoding":{"detail":{"field":"k"}}},
   {"transform":[{"filter":"datum.g == 'P' && datum.k != 'est'"}],"mark":{"type":"line","stroke":"#000000","strokeDash":[5,3],"strokeWidth":2},"encoding":{"detail":{"field":"k"}}},
   {"transform":[{"filter":"datum.k == 'est'"}],"mark":{"type":"line","strokeWidth":2.5},"encoding":{"color":{"field":"g","type":"nominal","scale":{"domain":["P","C"],"range":["#000000","#a6a6a6"]},
    "legend":{"title":null,"orient":"none","legendX":29,"legendY":135,"padding":3,"rowPadding":1,"symbolOffset":35,"labelExpr":"datum.value == 'P' ? 'PROBANDS: Observed survival with 95% C.I., n/N= 13/24' : 'CONTROLS: Observed survival with 95% C.I., n/N= 33/72'"}}}}
  ]},
 {"width":344,"height":187,"title":"d","data":{"name":"d"},"view":{"stroke":"#b4b4b4","strokeWidth":2},
  "encoding":{"x":{"field":"t","type":"quantitative","scale":{"domain":[0,20],"nice":false},"axis":{"values":[0,1,2,3,4,5,6,7,8,9,10,11,12,13,14,15,16,17,18,19,20],"title":"Follow-up time (years)"}},
   "y":{"field":"s","type":"quantitative","scale":{"domain":[0,1],"nice":false},"axis":{"values":[0,0.1,0.2,0.3,0.4,0.5,0.6,0.7,0.8,0.9,1],"format":".2f","title":null,"labelPadding":16}}},
  "layer":[
   {"transform":[{"filter":"datum.g == 'C' && datum.k != 'est'"}],"mark":{"type":"line","stroke":"#bbbbbb","strokeDash":[7,4],"strokeWidth":2},"encoding":{"detail":{"field":"k"}}},
   {"transform":[{"filter":"datum.g == 'P' && datum.k != 'est'"}],"mark":{"type":"line","stroke":"#000000","strokeDash":[5,3],"strokeWidth":2},"encoding":{"detail":{"field":"k"}}},
   {"transform":[{"filter":"datum.k == 'est'"}],"mark":{"type":"line","strokeWidth":2.5},"encoding":{"color":{"field":"g","type":"nominal","scale":{"domain":["P","C"],"range":["#000000","#bbbbbb"]},
    "legend":{"title":null,"orient":"none","legendX":29,"legendY":106,"padding":4,"rowPadding":10,"symbolOffset":20,"labelExpr":"datum.value == 'P' ? 'Observed survival with 95% C.I., n/N= 21/34' : 'CONTROLS: Observed survival with 95% C.I., n/N= 55/101'"}}}}
  ]}
 ],"spacing":10,"resolve":{"scale":{"color":"independent"},"legend":{"color":"independent"}}},
{"hconcat":[
 {"width":174,"height":188,"mark":"point","data":{"values":[]}},
 {"width":345,"height":188,"title":"e","data":{"name":"e"},
  "encoding":{"x":{"field":"t","type":"quantitative","scale":{"domain":[0,20],"nice":false},"axis":{"values":[0,1,2,3,4,5,6,7,8,9,10,11,12,13,14,15,16,17,18,19,20],"title":"Follow-up time (years)","titlePadding":4}},
   "y":{"field":"s","type":"quantitative","scale":{"domain":[0,1],"nice":false},"axis":{"values":[0,0.1,0.2,0.3,0.4,0.5,0.6,0.7,0.8,0.9,1],"format":".2f","title":null}}},
  "layer":[
   {"transform":[{"filter":"datum.g == 'C' && datum.k != 'est'"}],"mark":{"type":"line","stroke":"#bbbbbb","strokeDash":[7,4],"strokeWidth":2},"encoding":{"detail":{"field":"k"}}},
   {"transform":[{"filter":"datum.g == 'P' && datum.k != 'est'"}],"mark":{"type":"line","stroke":"#000000","strokeDash":[5,3],"strokeWidth":2},"encoding":{"detail":{"field":"k"}}},
   {"transform":[{"filter":"datum.k == 'est'"}],"mark":{"type":"line","strokeWidth":2.5},"encoding":{"color":{"field":"g","type":"nominal","scale":{"domain":["P","C"],"range":["#000000","#bbbbbb"]},
    "legend":{"title":null,"orient":"none","legendX":11,"legendY":124,"padding":3.5,"rowPadding":6,"symbolOffset":7,"labelExpr":"datum.value == 'P' ? 'Observed survival with 95% C.I., n/N= 20/39' : 'CONTROLS: Observed survival with 95% C.I., n/N= 66/117'"}}}}
  ]}
 ],"spacing":12,"resolve":{"scale":{"color":"independent"},"legend":{"color":"independent"}}}
]
}
